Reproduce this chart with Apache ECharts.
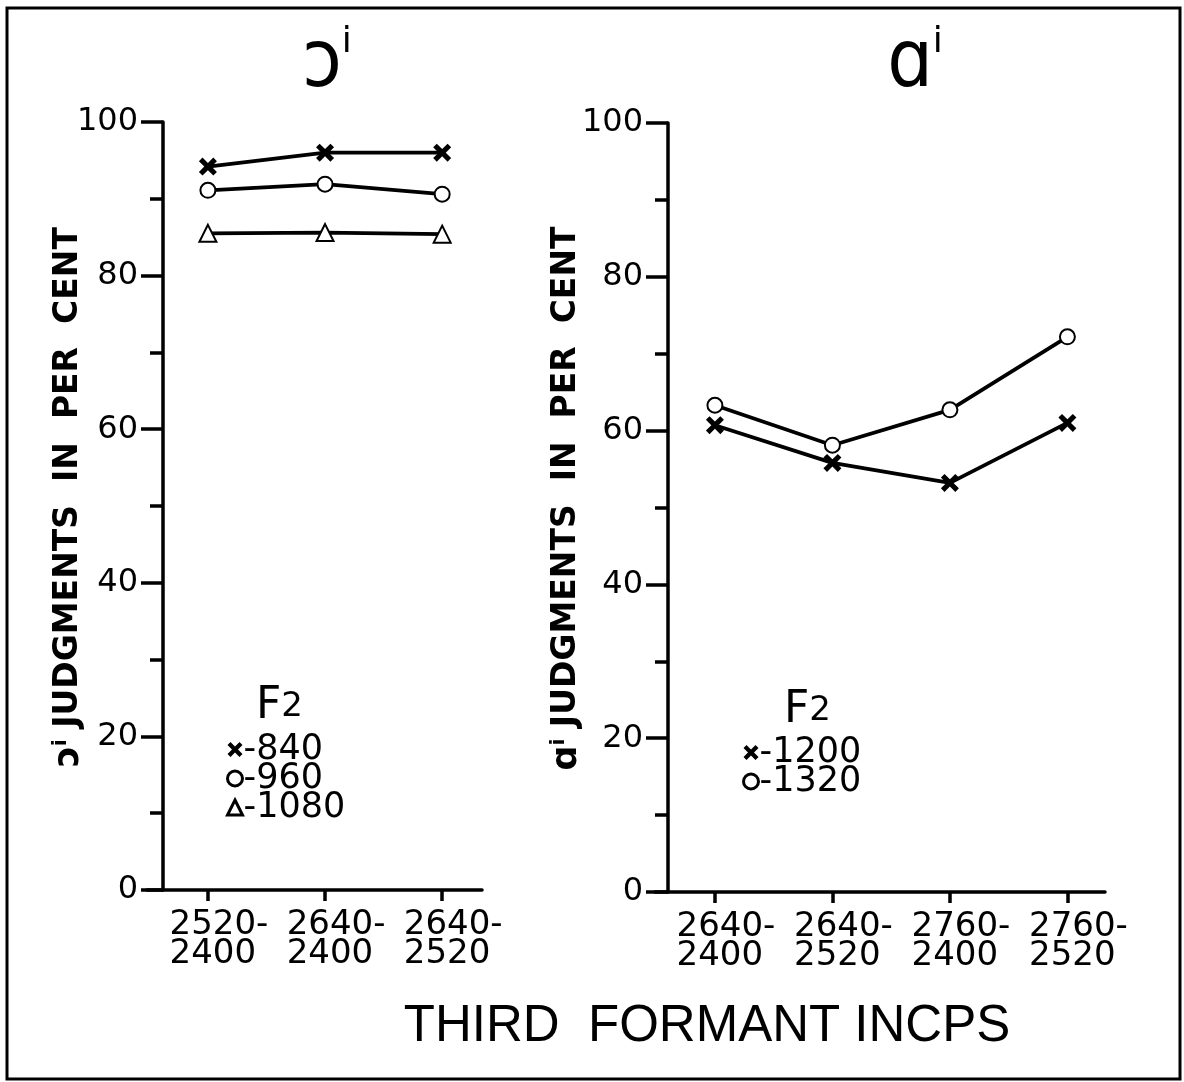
<!DOCTYPE html>
<html>
<head>
<meta charset="utf-8">
<style>html,body{margin:0;padding:0;background:#fff;}#chart{width:1184px;height:1082px;}</style>
<script src="https://cdn.jsdelivr.net/npm/echarts@6/dist/echarts.min.js"></script>
</head>
<body>
<div id="chart"></div>
<script>
// ---- data ----
const leftCategories = ['2520-\n2400', '2640-\n2400', '2640-\n2520'];
const rightCategories = ['2640-\n2400', '2640-\n2520', '2760-\n2400', '2760-\n2520'];
const leftF2_840 = [94.2, 96.0, 96.0];
const leftF2_960 = [91.1, 91.9, 90.6];
const leftF2_1080 = [85.5, 85.6, 85.4];
const rightF2_1200 = [60.7, 55.8, 53.2, 61.0];
const rightF2_1320 = [63.3, 58.1, 62.7, 72.2];
const yTickValues = [0, 20, 40, 60, 80, 100];

const leftTitle = 'ɔ';
const rightTitle = 'ɑ';
const xAxisTitle = 'THIRD  FORMANT INCPS';

// ---- styling ----
const BLACK = '#000';
const FONT = '"DejaVu Sans", sans-serif';
const crossPath = 'path://M0,2 L2,0 L5,3 L8,0 L10,2 L7,5 L10,8 L8,10 L5,7 L2,10 L0,8 L3,5 Z';

function pairs(arr) { return arr.map((v, i) => [i, v]); }

function xAxisFor(gridIndex, cats, min, max) {
  const idx = cats.map((c, i) => i);
  return {
    gridIndex: gridIndex, type: 'value', min: min, max: max,
    splitLine: { show: false },
    axisLine: { show: true, onZero: false, lineStyle: { color: BLACK, width: 3.5 } },
    axisTick: { show: true, customValues: idx, length: 11, lineStyle: { color: BLACK, width: 3.5 } },
    axisLabel: {
      customValues: idx, margin: 21, color: BLACK,
      padding: [0, 0, 0, 22],
      formatter: function (v) {
        return cats[Math.round(v)].split('\n').map(function (s) { return '{l|' + s + '}'; }).join('\n');
      },
      rich: { l: { fontFamily: FONT, fontSize: 34, lineHeight: 29, align: 'left', color: BLACK } }
    }
  };
}

function yAxisFor(gridIndex, offset, prefix, nameGap) {
  return {
    gridIndex: gridIndex, type: 'value', min: 0, max: 100, interval: 20, offset: offset,
    name: '{p|' + prefix + '}{s|i}{t| JUDGMENTS  IN  PER  CENT}',
    nameLocation: 'middle', nameGap: nameGap, nameRotate: 90, nameMoveOverlap: false,
    nameTextStyle: {
      padding: [0, 0, 0, 18],
      rich: {
        p: { fontFamily: FONT, fontSize: 35, fontWeight: 'bold', color: BLACK },
        s: { fontFamily: FONT, fontSize: 20, fontWeight: 'bold', color: BLACK, verticalAlign: 'top', padding: [0, 0, 14, 0] },
        t: { fontFamily: FONT, fontSize: 33, fontWeight: 'bold', color: BLACK }
      }
    },
    splitLine: { show: false },
    axisLine: { show: true, onZero: false, lineStyle: { color: BLACK, width: 3.5 } },
    axisTick: { show: true, length: 22, lineStyle: { color: BLACK, width: 3.5 } },
    minorTick: { show: true, splitNumber: 2, length: 13, lineStyle: { color: BLACK, width: 3.5 } },
    axisLabel: {
      margin: 25, color: BLACK, fontFamily: FONT, fontSize: 32,
      customValues: yTickValues
    }
  };
}

function lineSeries(name, x, y, data, symbol, size) {
  return {
    name: name, type: 'line', xAxisIndex: x, yAxisIndex: y, data: pairs(data),
    symbol: symbol, symbolSize: size, showSymbol: true,
    lineStyle: { color: BLACK, width: 3.8 },
    itemStyle: { color: BLACK, borderColor: BLACK, borderWidth: symbol === crossPath ? 0 : 3.5 },
    emphasis: { disabled: true },
    z: 3
  };
}

const chart = echarts.init(document.getElementById('chart'), null, { renderer: 'canvas' });

const titleRich = {
  a: { fontFamily: '"DejaVu Sans Condensed", "DejaVu Sans", sans-serif', fontWeight: 'normal', fontSize: 80, color: BLACK },
  b: { fontFamily: FONT, fontWeight: 'normal', fontSize: 36, color: BLACK, verticalAlign: 'top', padding: [0, 0, 40, 0] }
};
const f2Rich = {
  f: { fontFamily: FONT, fontWeight: 'normal', fontSize: 44, color: BLACK },
  n: { fontFamily: FONT, fontWeight: 'normal', fontSize: 34, color: BLACK }
};

const legendText = { fontFamily: FONT, fontSize: 35, color: BLACK, padding: [0, 0, 0, -4] };

const option = {
  backgroundColor: '#fff',
  animation: false,
  grid: [
    { left: 147, top: 122, width: 335, height: 768, outerBoundsMode: 'none' },
    { left: 655, top: 123, width: 450, height: 769, outerBoundsMode: 'none' }
  ],
  xAxis: [
    xAxisFor(0, leftCategories, -0.52, 2.34),
    xAxisFor(1, rightCategories, -0.51, 3.32)
  ],
  yAxis: [
    yAxisFor(0, -16, 'ɔ', 77),
    yAxisFor(1, -13, 'ɑ', 84)
  ],
  title: [
    { text: '{a|' + leftTitle + '}{b|i}', left: 322, top: 20, textAlign: 'center', textStyle: { fontWeight: 'normal', rich: titleRich } },
    { text: '{a|' + rightTitle + '}{b|i}', left: 910, top: 20, textAlign: 'center', textStyle: { fontWeight: 'normal', rich: titleRich } },
    { text: '{f|F}{n|2}', left: 251, top: 680, textStyle: { fontWeight: 'normal', rich: f2Rich } },
    { text: '{f|F}{n|2}', left: 779, top: 684, textStyle: { fontWeight: 'normal', rich: f2Rich } },
    {
      text: xAxisTitle, left: 702, top: 996, textAlign: 'center',
      textStyle: { fontFamily: '"Liberation Sans Narrow", "Liberation Sans", sans-serif', fontWeight: 'normal', fontSize: 51, color: BLACK }
    }
  ],
  legend: [
    {
      orient: 'vertical', left: 221, top: 727, itemGap: -6, itemWidth: 15, itemHeight: 15,
      selectedMode: false,
      data: [
        { name: '840', icon: crossPath, itemStyle: { color: BLACK, borderWidth: 0 } },
        { name: '960', icon: 'circle', itemStyle: { color: '#fff', borderColor: BLACK, borderWidth: 3 } },
        { name: '1080', icon: 'triangle', itemStyle: { color: '#fff', borderColor: BLACK, borderWidth: 3 } }
      ],
      formatter: function (n) { return '-' + n; },
      textStyle: legendText
    },
    {
      orient: 'vertical', left: 737, top: 730, itemGap: -6, itemWidth: 15, itemHeight: 15,
      selectedMode: false,
      data: [
        { name: '1200', icon: crossPath, itemStyle: { color: BLACK, borderWidth: 0 } },
        { name: '1320', icon: 'circle', itemStyle: { color: '#fff', borderColor: BLACK, borderWidth: 3 } }
      ],
      formatter: function (n) { return '-' + n; },
      textStyle: legendText
    }
  ],
  series: [
    lineSeries('840', 0, 0, leftF2_840, crossPath, 18),
    lineSeries('960', 0, 0, leftF2_960, 'emptyCircle', 15),
    lineSeries('1080', 0, 0, leftF2_1080, 'emptyTriangle', 17),
    lineSeries('1200', 1, 1, rightF2_1200, crossPath, 18),
    lineSeries('1320', 1, 1, rightF2_1320, 'emptyCircle', 15)
  ],
  graphic: [
    { type: 'rect', shape: { x: 7, y: 8, width: 1173, height: 1071 }, style: { fill: 'none', stroke: BLACK, lineWidth: 3 }, silent: true }
  ]
};
chart.setOption(option);
</script>
</body>
</html>
